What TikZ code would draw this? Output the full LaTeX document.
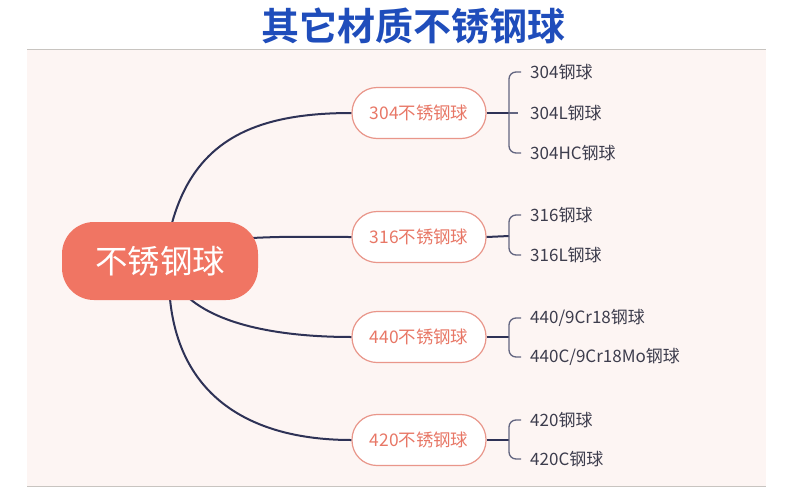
\documentclass[tikz,border=0pt]{standalone}
\usepackage{fontspec}
\newfontfamily\cjk{Noto Sans CJK SC}
\newfontfamily\cjkb{Noto Sans CJK SC Bold}
\definecolor{titleblue}{HTML}{1F4DBB}
\definecolor{bgpink}{HTML}{FDF5F3}
\definecolor{rootfill}{HTML}{F07563}
\definecolor{coral}{HTML}{E87766}
\definecolor{coralline}{HTML}{E9968A}
\definecolor{navy}{HTML}{2E3256}
\definecolor{leafgray}{HTML}{3D3D4D}
\definecolor{rule}{HTML}{C8C4C0}
\begin{document}
\begin{tikzpicture}[x=1pt,y=-1pt,
  rootbox/.style={fill=rootfill,draw=none,rounded corners=32pt,minimum width=196pt,minimum height=78pt,text=white,font=\cjk\fontsize{32.5}{34}\selectfont,inner sep=0pt},
  branchbox/.style={fill=white,draw=coralline,line width=1.2pt,rounded corners=25pt,minimum width=134pt,minimum height=51pt,text=coral,font=\cjk\fontsize{17.4}{19}\selectfont,inner sep=0pt},
  leaf/.style={anchor=west,text=leafgray,font=\cjk\fontsize{17}{19}\selectfont,inner sep=0pt},
  mainedge/.style={draw=navy,line width=2pt},
  bracket/.style={draw=navy!75,line width=1.3pt,rounded corners=7pt}]
\useasboundingbox (0,0) rectangle (790,496);
\fill[white] (0,0) rectangle (790,496);
\fill[bgpink] (27,49) rectangle (766,486);
\draw[rule,line width=1pt] (27,49) -- (766,49);
\draw[rule,line width=1pt] (27,486) -- (766,486);
\node[text=titleblue,font=\cjkb\fontsize{38}{40}\selectfont,inner sep=0pt] (title) at (413,26) {其它材质不锈钢球};

\coordinate (r1) at (172,223);
\coordinate (r2) at (252,238);
\coordinate (r3) at (190,299);
\coordinate (r4) at (170,299);

\node[branchbox] (b1) at (419,113) {304不锈钢球};
\node[branchbox] (b2) at (419,237) {316不锈钢球};
\node[branchbox] (b3) at (419,337) {440不锈钢球};
\node[branchbox] (b4) at (419,440) {420不锈钢球};

\draw[mainedge] (r1) .. controls (195,140) and (255,113) .. (b1.west);
\draw[mainedge] (r2) .. controls (290,236) and (320,237) .. (b2.west);
\draw[mainedge] (r3) .. controls (225,328) and (290,337) .. (b3.west);
\draw[mainedge] (r4) .. controls (180,400) and (255,440) .. (b4.west);

\node[rootbox] (root) at (160,261) {不锈钢球};

\node[leaf] (l11) at (530,72) {304钢球};
\node[leaf] (l12) at (530,113) {304L钢球};
\node[leaf] (l13) at (530,153) {304HC钢球};
\node[leaf] (l21) at (530,215) {316钢球};
\node[leaf] (l22) at (530,255) {316L钢球};
\node[leaf] (l31) at (530,318) {440/9Cr18钢球};
\node[leaf] (l32) at (530,357) {440C/9Cr18Mo钢球};
\node[leaf] (l41) at (530,420) {420钢球};
\node[leaf] (l42) at (530,459) {420C钢球};

\coordinate (j1) at (509,113);
\coordinate (j2) at (509,236);
\coordinate (j3) at (509,337);
\coordinate (j4) at (509,440);

\draw[mainedge] (b1.east) -- (j1);
\draw[mainedge] (b2.east) -- (j2);
\draw[mainedge] (b3.east) -- (j3);
\draw[mainedge] (b4.east) -- (j4);

\draw[bracket] (j1) |- ([xshift=-9pt]l11.west);
\draw[bracket] (j1) -- ([xshift=-12pt]l12.west);
\draw[bracket] (j1) |- ([xshift=-9pt]l13.west);
\draw[bracket] (j2) |- ([xshift=-9pt]l21.west);
\draw[bracket] (j2) |- ([xshift=-9pt]l22.west);
\draw[bracket] (j3) |- ([xshift=-9pt]l31.west);
\draw[bracket] (j3) |- ([xshift=-9pt]l32.west);
\draw[bracket] (j4) |- ([xshift=-9pt]l41.west);
\draw[bracket] (j4) |- ([xshift=-9pt]l42.west);
\end{tikzpicture}
\end{document}
